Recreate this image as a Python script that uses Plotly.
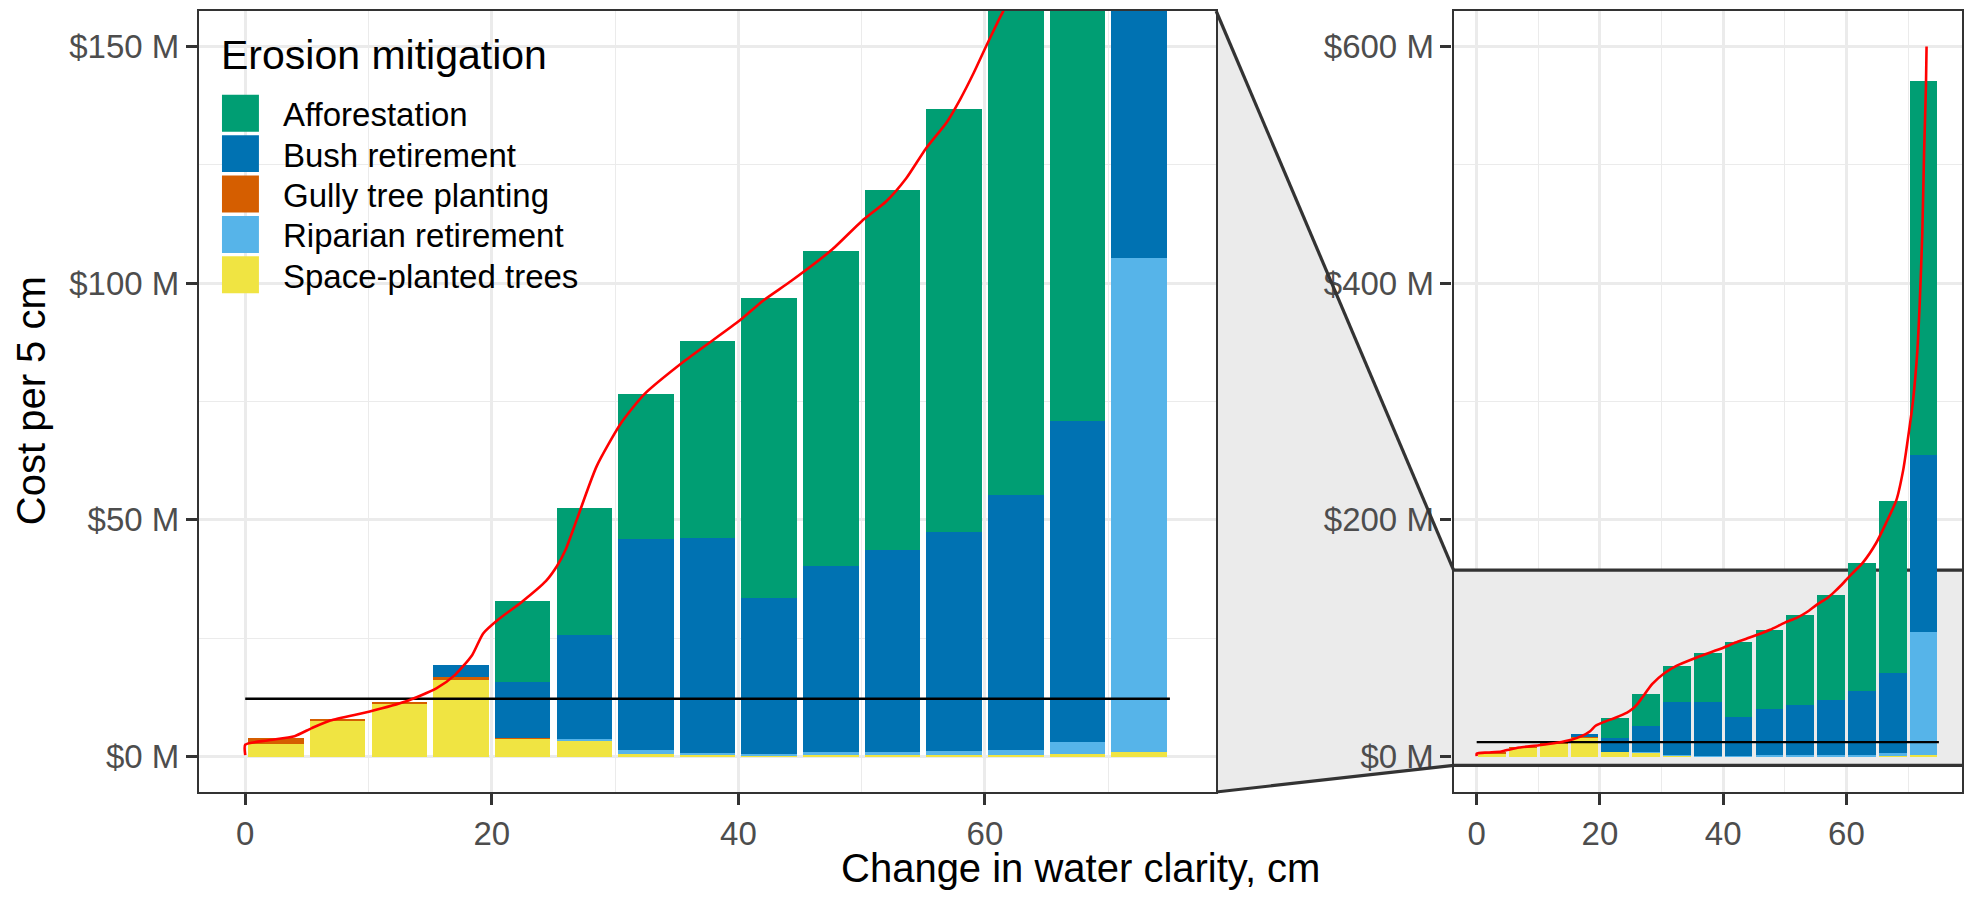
import plotly.graph_objects as go

# ---------------- data ----------------
clarity_mid = [2.5, 7.5, 12.5, 17.5, 22.5, 27.5, 32.5, 37.5, 42.5, 47.5, 52.5, 57.5, 62.5, 67.5, 72.5]

space_planted = [2.7, 7.4, 11.2, 16.3, 3.8, 3.3, 0.6, 0.4, 0.2, 0.3, 0.3, 0.3, 0.4, 0.5, 0.9]
riparian = [0, 0, 0, 0, 0, 0.5, 0.7, 0.4, 0.3, 0.6, 0.7, 0.96, 1.07, 2.5, 104.5]
gully = [1.2, 0.6, 0.3, 0.4, 0.2, 0, 0, 0, 0, 0, 0, 0, 0, 0, 0]
bush = [0, 0, 0, 2.6, 11.8, 21.8, 44.7, 45.4, 33.0, 39.3, 42.65, 46.24, 53.8, 67.9, 149.1]
afforestation = [0, 0, 0, 0, 17.1, 26.9, 30.5, 41.6, 63.3, 66.5, 76.05, 89.4, 108.0, 145.4, 316.4]

curve_x = [0, 0, 1.8, 4.0, 5.4, 6.9, 10.1, 13.0, 15.5, 17.0, 18.4, 19.3, 20.6, 22.4, 24.4, 25.3,
           26.0, 26.9, 28.5, 30.5, 32.4, 35.7, 40.1, 42.0, 44.3, 47.6, 50.0, 52.0, 53.6, 55.2,
           56.9, 58.0, 59.1, 60.1, 61.0, 62.6, 64.8, 66.4, 68.1, 69.2, 69.7, 70.8, 71.5, 71.9,
           72.3, 72.6, 72.9, 73.0]
curve_y = [0.3, 2.5, 3.4, 4.3, 6.0, 7.6, 9.5, 11.6, 14.4, 17.2, 21.4, 26.0, 29.1, 32.6, 37.1, 40.3,
           43.8, 50.1, 61.3, 70.5, 76.6, 83.7, 92.1, 96.3, 100.5, 107.1, 113.1, 117.3, 122.1, 128.4,
           134.0, 138.9, 144.5, 150.1, 155.0, 163.4, 180.2, 197.0, 216.6, 241.8, 258.6, 300.5, 342.5,
           384.5, 440.5, 510.4, 566.4, 600.0]

target_x = [0, 75]
target_y = [12.2, 12.2]

series_names = ["Space-planted trees", "Riparian retirement", "Gully tree planting",
                "Bush retirement", "Afforestation"]
series_values = [space_planted, riparian, gully, bush, afforestation]
colors = {"Afforestation": "#009E73", "Bush retirement": "#0072B2",
          "Gully tree planting": "#D55E00", "Riparian retirement": "#56B4E9",
          "Space-planted trees": "#F0E442"}
legend_order = ["Afforestation", "Bush retirement", "Gully tree planting",
                "Riparian retirement", "Space-planted trees"]

zoom_ticks = [0, 50, 100, 150]
full_ticks = [0, 200, 400, 600]
x_ticks = [0, 20, 40, 60]

# ---------------- layout geometry ----------------
W, H = 1973, 897
ML, MR, MT, MB = 199, 9, 9, 105
PW = W - ML - MR
PH = H - MT - MB

def px(xp):
    return (xp - ML) / PW

def py(yp):
    return (H - MB - yp) / PH

d1 = px(1217.3)
d2 = px(1455)

XR = [-3.75, 78.75]
YR1 = [-7.5, 157.5]
YR2 = [-30, 630]

FONT = "Liberation Sans, Arial, sans-serif"

fig = go.Figure()

for name, vals in zip(series_names, series_values):
    for xa, ya in (("x", "y"), ("x2", "y2")):
        fig.add_trace(go.Bar(x=clarity_mid, y=vals, width=4.5, name=name,
                             marker=dict(color=colors[name], line=dict(width=0)),
                             xaxis=xa, yaxis=ya, showlegend=False))

for xa, ya in (("x", "y"), ("x2", "y2")):
    fig.add_trace(go.Scatter(x=target_x, y=target_y, mode="lines",
                             line=dict(color="black", width=2.3),
                             xaxis=xa, yaxis=ya, showlegend=False))
    fig.add_trace(go.Scatter(x=curve_x, y=curve_y, mode="lines",
                             line=dict(color="#FF0000", width=2.6, shape="spline", smoothing=0.6),
                             xaxis=xa, yaxis=ya, showlegend=False))

GRID = "#EBEBEB"
tickfont = dict(family=FONT, size=33, color="#4D4D4D")

def xaxis_cfg(domain, anchor):
    return dict(domain=domain, anchor=anchor, range=XR, tickvals=x_ticks,
                ticks="outside", ticklen=11, tickwidth=3, tickcolor="#333333",
                showline=True, mirror=True, linecolor="#333333", linewidth=2.2,
                showgrid=True, gridcolor=GRID, gridwidth=2.5, zeroline=False,
                minor=dict(tickvals=[10, 30, 50, 70], showgrid=True, gridcolor=GRID,
                           gridwidth=1.3, ticks=""),
                tickfont=tickfont)

def yaxis_cfg(rng, tv, minor, anchor):
    return dict(domain=[0, 1], anchor=anchor, range=rng, tickvals=tv,
                ticktext=["$%d M" % v for v in tv],
                ticks="outside", ticklen=11, tickwidth=3, tickcolor="#333333",
                showline=True, mirror=True, linecolor="#333333", linewidth=2.2,
                showgrid=True, gridcolor=GRID, gridwidth=2.5, zeroline=False,
                minor=dict(tickvals=minor, showgrid=True, gridcolor=GRID,
                           gridwidth=1.3, ticks=""),
                tickfont=tickfont)

fig.update_layout(
    width=W, height=H,
    margin=dict(l=ML, r=MR, t=MT, b=MB),
    plot_bgcolor="white", paper_bgcolor="white",
    barmode="stack",
    font=dict(family=FONT, color="black"),
    xaxis=xaxis_cfg([0, d1], "y"),
    yaxis=yaxis_cfg(YR1, zoom_ticks, [25, 75, 125], "x"),
    xaxis2=xaxis_cfg([d2, 1], "y2"),
    yaxis2=yaxis_cfg(YR2, full_ticks, [100, 300, 500], "x2"),
)

shapes = []
# zoom band in full panel
shapes.append(dict(type="rect", xref="x2", yref="y2", x0=XR[0], x1=XR[1], y0=YR1[0], y1=YR1[1],
                   fillcolor="#EBEBEB", line=dict(width=0), layer="below"))
for yv in YR1:
    shapes.append(dict(type="line", xref="x2", yref="y2", x0=XR[0], x1=XR[1], y0=yv, y1=yv,
                       line=dict(color="#333333", width=3.2), layer="between"))
# connector between panels
yb_top = (YR1[1] - YR2[0]) / (YR2[1] - YR2[0])
yb_bot = (YR1[0] - YR2[0]) / (YR2[1] - YR2[0])
shapes.append(dict(type="path", xref="paper", yref="paper",
                   path=f"M {d1},1 L {d2},{yb_top} L {d2},{yb_bot} L {d1},0 Z",
                   fillcolor="#EBEBEB", line=dict(width=0), layer="below"))
shapes.append(dict(type="line", xref="paper", yref="paper", x0=d1, y0=1, x1=d2, y1=yb_top,
                   line=dict(color="#333333", width=3.2), layer="above"))
shapes.append(dict(type="line", xref="paper", yref="paper", x0=d1, y0=0, x1=d2, y1=yb_bot,
                   line=dict(color="#333333", width=3.2), layer="above"))

annotations = []
# legend (drawn inside the zoom panel)
key_tops = [93, 133.5, 174, 214.5, 255]
for name, top in zip(legend_order, key_tops):
    shapes.append(dict(type="rect", xref="paper", yref="paper",
                       x0=px(222), x1=px(259), y0=py(top + 37), y1=py(top),
                       fillcolor=colors[name], line=dict(width=0), layer="above"))
    annotations.append(dict(xref="paper", yref="paper", x=px(281), y=py(top + 20),
                            text=name, showarrow=False, xanchor="left", yanchor="middle",
                            font=dict(size=33, color="black", family=FONT)))
annotations.append(dict(xref="paper", yref="paper", x=px(219), y=py(53),
                        text="Erosion mitigation", showarrow=False, xanchor="left",
                        yanchor="middle", font=dict(size=41, color="black", family=FONT)))
# axis titles
annotations.append(dict(xref="paper", yref="paper", x=px(1081), y=py(868),
                        text="Change in water clarity, cm", showarrow=False,
                        xanchor="center", yanchor="middle",
                        font=dict(size=40, color="black", family=FONT)))
annotations.append(dict(xref="paper", yref="paper", x=px(31), y=py(400),
                        text="Cost per 5 cm", showarrow=False, textangle=-90,
                        xanchor="center", yanchor="middle",
                        font=dict(size=40, color="black", family=FONT)))

fig.update_layout(shapes=shapes, annotations=annotations)
fig.write_html("out.html", config={"displayModeBar": False},
               post_script="document.body.style.margin='0';document.body.style.overflow='hidden';")
